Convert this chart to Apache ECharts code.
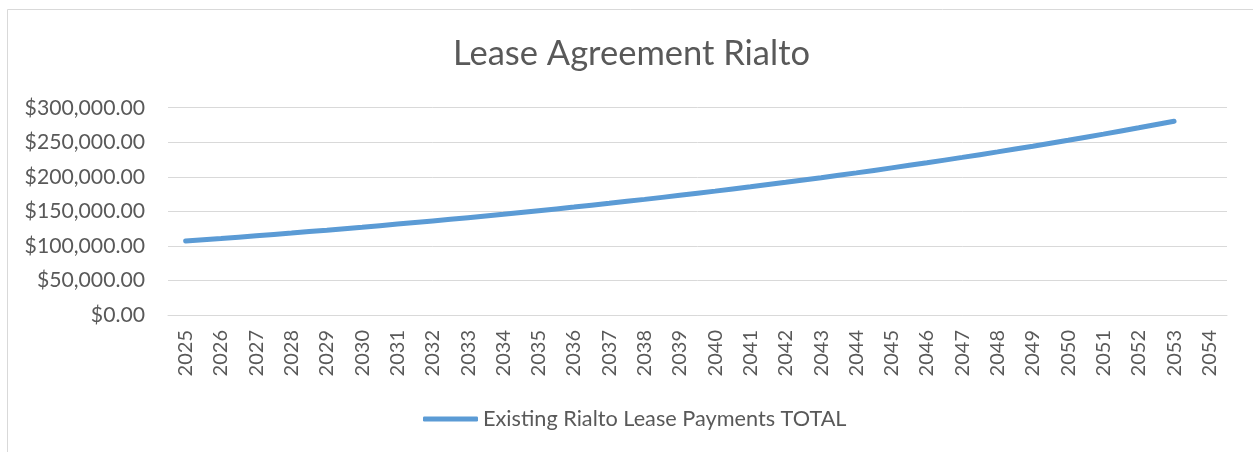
<!DOCTYPE html>
<html>
<head>
<meta charset="utf-8">
<script src="https://cdn.jsdelivr.net/npm/echarts@6/dist/echarts.min.js"></script>
<style>
html,body{margin:0;padding:0;background:#fff;}
#chart{width:1253px;height:452px;}
</style>
</head>
<body>
<div id="chart"></div>
<script>
const title = 'Lease Agreement Rialto';
const seriesName = 'Existing Rialto Lease Payments TOTAL';
const years = ['2025','2026','2027','2028','2029','2030','2031','2032','2033','2034',
  '2035','2036','2037','2038','2039','2040','2041','2042','2043','2044',
  '2045','2046','2047','2048','2049','2050','2051','2052','2053','2054'];
const payments = [107000,110745,114621,118633,122785,127082,131530,136134,140899,145830,
  150934,156217,161684,167343,173200,179262,185536,192030,198751,205708,
  212907,220359,228072,236054,244316,252867,261718,270878,280358,null];
const yTicks = [0,50000,100000,150000,200000,250000,300000];

const FONT = 'Lato, sans-serif';
const chart = echarts.init(document.getElementById('chart'));
chart.setOption({
  animation: false,
  backgroundColor: '#fff',
  graphic: [{
    type: 'rect', shape: {x: 7.5, y: 9.5, width: 1260, height: 460},
    style: {fill: 'none', stroke: '#D9D9D9', lineWidth: 1}, silent: true
  }],
  title: {
    text: title, left: 453, top: 36, padding: 0,
    textStyle: {fontFamily: FONT, fontSize: 34.5, fontWeight: 'normal', color: '#595959'}
  },
  legend: {
    data: [seriesName], bottom: 22, left: 423, padding: 0,
    itemWidth: 55, itemHeight: 5, itemGap: 4,
    icon: 'roundRect',
    textStyle: {fontFamily: FONT, fontSize: 21.7, color: '#595959'}
  },
  grid: {left: 168, right: 26, top: 107.7, bottom: 137, containLabel: false},
  xAxis: {
    type: 'category', data: years, boundaryGap: true,
    axisLine: {show: true, lineStyle: {color: '#D9D9D9'}},
    axisTick: {show: false},
    axisLabel: {rotate: 90, interval: 0, fontFamily: FONT, fontSize: 20, color: '#595959', margin: 15}
  },
  yAxis: {
    type: 'value', min: 0, max: 300000, interval: 50000,
    axisLine: {show: false}, axisTick: {show: false},
    splitLine: {lineStyle: {color: '#D9D9D9', width: 1}},
    axisLabel: {
      fontFamily: FONT, fontSize: 21.2, color: '#595959', margin: 23,
      formatter: v => yTicks.includes(v) ? '$' + v.toLocaleString('en-US', {minimumFractionDigits: 2, maximumFractionDigits: 2}) : ''
    }
  },
  series: [{
    name: seriesName, type: 'line', data: payments, smooth: true,
    showSymbol: false, symbol: 'none',
    lineStyle: {color: '#5B9BD5', width: 5, cap: 'round'},
    itemStyle: {color: '#5B9BD5'}
  }]
});
</script>
</body>
</html>
